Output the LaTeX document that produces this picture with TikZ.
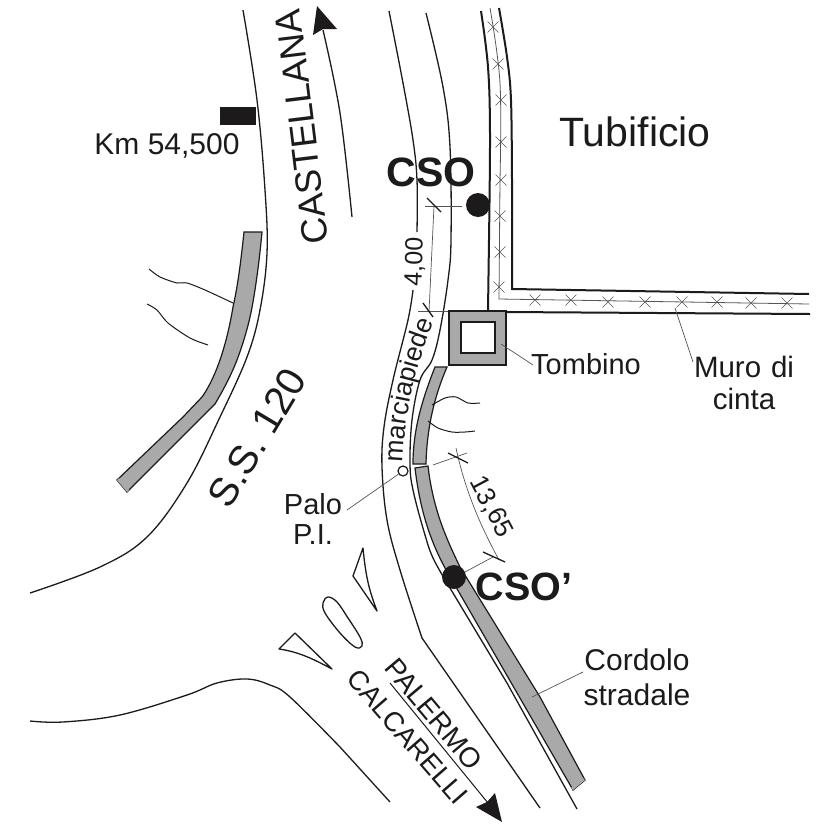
\documentclass[tikz,border=0pt]{standalone}
\usepackage{fontspec}
\setmainfont{Liberation Sans}
\usetikzlibrary{shapes.misc,decorations.text}
\definecolor{ink}{HTML}{1C1A1A}
\definecolor{band}{HTML}{A9A9A9}
\definecolor{thin}{HTML}{555555}
\newcommand{\fs}[1]{\fontsize{#1}{#1}\selectfont}
\tikzset{
  road/.style={draw=ink,line width=1.3pt,line join=round},
  wall/.style={draw=ink,line width=2pt},
  midline/.style={draw=thin,line width=0.8pt},
  kerb/.style={draw=ink,fill=band,line width=1.2pt,line join=miter},
  leader/.style={draw=thin,line width=0.7pt},
  dim/.style={draw=thin,line width=0.7pt},
  tickmark/.style={draw=ink,line width=1.3pt},
  xmark/.style={cross out,draw=thin,line width=0.6pt,minimum size=11pt,inner sep=0pt,outer sep=0pt},
  lab/.style={text=ink,inner sep=0pt,align=center},
  blob/.style={circle,fill=ink,inner sep=0pt,minimum size=24pt}
}
\begin{document}
\begin{tikzpicture}[x=1pt,y=-1pt]
\useasboundingbox (0,0) rectangle (828,828);
\fill[white] (0,0) rectangle (828,828);

% left road edge
\draw[road] plot[smooth,tension=0.6] coordinates {(243,10) (257,100) (265,190) (267,253) (260,310) (247,357) (220,417) (187,483) (147,537) (100,567) (30,593)};
% left kerb
\draw[kerb] (244,232) -- (262,232) .. controls (259,265) and (254,300) .. (250,317)
  .. controls (246,335) and (240,352) .. (237,360) .. controls (230,378) and (222,392) .. (215,404)
  -- (127,492) -- (117,480) -- (183,417) -- (202,397)
  .. controls (212,383) and (225,355) .. (233,307) .. controls (238,285) and (241,260) .. (244,232) -- cycle;
\fill[band] (117,480) -- (127,492) -- (129,490) -- (119,478) -- cycle;
% wiggles left
\draw[road,line width=1pt] plot[smooth,tension=0.5] coordinates {(149,269) (160,277) (177,283) (187,283) (205,290) (233,303)};
\draw[road,line width=1pt] plot[smooth,tension=0.5] coordinates {(147,304) (157,310) (168,323) (190,338) (208,345)};
% road marker
\fill[ink] (220,107) rectangle (256,125);
% arrow Castellana
\draw[road] plot[smooth,tension=0.6] coordinates {(352,217) (340,113) (323,30)};
\fill[ink] (317,6) -- (337,29) -- (323,29) -- (313,35) -- cycle;

% footpath lines
\draw[road] plot[smooth,tension=0.6] coordinates {(389,11) (403,83) (413,140) (417,180) (417,232)};
\draw[road] plot[smooth,tension=0.6] coordinates {(413,290) (408,320) (393,380) (384,427) (382,467) (387,520) (400,570) (422,638)} -- (540,808);
\draw[road] plot[smooth,tension=0.6] coordinates {(426,13) (443,87) (450,147) (451,240) (448,280) (440,330) (432,360) (420,380) (412,420) (410,463) (413,490) (425,535) (434,560) (453,593)} -- (507,683) -- (577,809);

% right kerb pieces
\draw[kerb] (435,367) -- (447,367) .. controls (438,388) and (427,420) .. (426,464) -- (413,464)
  .. controls (413,430) and (422,400) .. (435,367) -- cycle;
\draw[kerb] (415,468) -- (428,466) .. controls (433,510) and (447,540) .. (460,567)
  -- (540,697) -- (585,780) -- (573,790) -- (445,568)
  .. controls (430,540) and (420,510) .. (415,468) -- cycle;
\fill[band] (573,790) -- (585,780) -- (583,778) -- (571,788) -- cycle;
% wiggles right
\draw[road,line width=1pt] plot[smooth,tension=0.5] coordinates {(432,405) (445,398) (456,397) (468,403) (480,403)};
\draw[road,line width=1pt] plot[smooth,tension=0.5] coordinates {(428,421) (438,428) (452,432) (465,432) (475,431)};

% wall
\draw[wall] plot[smooth,tension=0.6] coordinates {(481,11) (488,67) (490,133) (489,240)} -- (488,311);
\draw[wall] (506,312) -- (810,314);
\draw[wall] plot[smooth,tension=0.6] coordinates {(499,8) (507,57) (511,100) (512,180)} -- (512,289) -- (809,294);
\draw[midline] plot[smooth,tension=0.6] coordinates {(490,8) (500,83) (500,180)} -- (499,299) -- (809,304);
\foreach \i/\p in {1/{(493,27)},2/{(498,64)},3/{(501,100)},4/{(501,142)},5/{(501,180)},6/{(500,216)},7/{(500,252)},8/{(499,287)},9/{(535,300)},10/{(571,300)},11/{(608,302)},12/{(645,302)},13/{(682,302)},14/{(717,302)},15/{(751,303)},16/{(787,303)}}
  \node[xmark] (x\i) at \p {};

% tombino
\draw[draw=ink,fill=band,line width=1.6pt] (449,311) rectangle (506,365);
\draw[draw=ink,fill=white,line width=2.5pt] (461,322) rectangle (495,353);

% junction islands
\draw[road] (363,548) .. controls (366,580) and (370,592) .. (377,611) -- (353,576) -- cycle;
\draw[road] plot[smooth cycle,tension=0.6] coordinates {(328,597) (323,603) (325,613) (340,633) (355,647) (362,646) (360,637) (348,618) (337,602)};
\draw[road] (295,633) -- (279,649) .. controls (300,652) and (315,660) .. (332,669) -- cycle;
% lower-left road
\draw[road] plot[smooth,tension=0.6] coordinates {(30,721) (63,722) (120,715) (187,695) (217,683) (247,679) (270,685) (290,697) (340,747)} -- (390,802);

% Palermo arrow
\coordinate (pa) at (390,683);
\coordinate (pb) at (488,803);
\draw[road,line width=1pt] (pa) -- (pb);
\fill[ink] (502,822) -- (476,807) -- (487,802) -- (495,793) -- cycle;

% palo
\node[circle,draw=ink,fill=white,line width=1.2pt,minimum size=10pt,inner sep=0pt] (palo) at (403,471) {};
% blobs
\node[blob] (cso) at (478,205) {};
\node[blob] (csop) at (454,577) {};

% dimension 4,00
\coordinate (d1) at (425,206); \coordinate (d2) at (462,206);
\coordinate (d3) at (418,311); \coordinate (d4) at (448,311);
\coordinate (d5) at (434,206); \coordinate (d6) at (429,312);
\draw[dim] (d1) -- (d2);
\draw[dim] (d3) -- (d4);
\draw[dim] (d5) -- (d6);
\coordinate (t1) at (427,198); \coordinate (t2) at (441,212);
\coordinate (t3) at (423,303); \coordinate (t4) at (433,317);
\draw[tickmark] (t1) -- (t2);
\draw[tickmark] (t3) -- (t4);
% dimension 13,65
\coordinate (e1) at (433,465); \coordinate (e2) at (467,453);
\coordinate (e3) at (465,572); \coordinate (e4) at (493,557);
\draw[dim] (e1) -- (e2);
\draw[dim] (e3) -- (e4);
\draw[dim] (456,448) .. controls (465,490) and (480,525) .. (499,560);
\coordinate (f1) at (448,453); \coordinate (f2) at (468,463);
\coordinate (f3) at (483,552); \coordinate (f4) at (505,562);
\draw[tickmark] (f1) -- (f2);
\draw[tickmark] (f3) -- (f4);

% texts
\node[lab,font=\fs{41}] (tub) at (635,132) {Tubificio};
\node[lab,font=\fs{30}] (km) at (167,146) {Km 54,500};
\node[lab,font=\bfseries\fs{41}] (csot) at (431,172) {CSO};
\node[lab,font=\bfseries\fs{39.5}] (csopt) at (524,587) {CSO’};
\node[lab,font=\fs{36.4},rotate=97] (cast) at (302,127) {CASTELLANA};
\node[lab,font=\fs{40},rotate=59] (ss) at (257,438) {S.S. 120};
\node[lab,font=\fs{25},rotate=88] (d400) at (415,262) {4,00};
\node[lab,font=\fs{26},rotate=-62] (d1365) at (491,507) {13,65};
\node[lab,font=\fs{29}] (tomb) at (586,364) {Tombino};
\node[lab,font=\fs{29.5},text width=120pt,align=center] (muro) at (744,383) {Muro di\\[3pt]cinta};
\node[lab,font=\fs{30},text width=120pt,align=center] (cord) at (637,677) {Cordolo\\[5pt]stradale};
\node[lab,font=\fs{29}] (palot) at (313,504) {Palo};
\node[lab,font=\fs{29}] (pi) at (313,535) {P.I.};
\node[lab,font=\fs{28},rotate=-50] (pal) at (434,714) {PALERMO};
\node[lab,font=\fs{27.5},rotate=-49] (cal) at (408,737) {CALCARELLI};
\path[decorate,decoration={text along path,text align=center,text={|\fs{26.5}\color{ink}|marciapiede}}]
  (403,462) .. controls (404,425) and (412,375) .. (434,322);

% leaders
\coordinate (l1) at (501,344); \coordinate (l2) at (533,365);
\draw[leader] (l1) -- (l2);
\coordinate (l3) at (675,308); \coordinate (l4) at (693,362);
\draw[leader] (l3) -- (l4);
\coordinate (l5) at (532,697); \coordinate (l6) at (583,672);
\draw[leader] (l5) -- (l6);
\coordinate (l7) at (347,510);
\draw[leader] (palo) -- (l7);
\end{tikzpicture}
\end{document}
